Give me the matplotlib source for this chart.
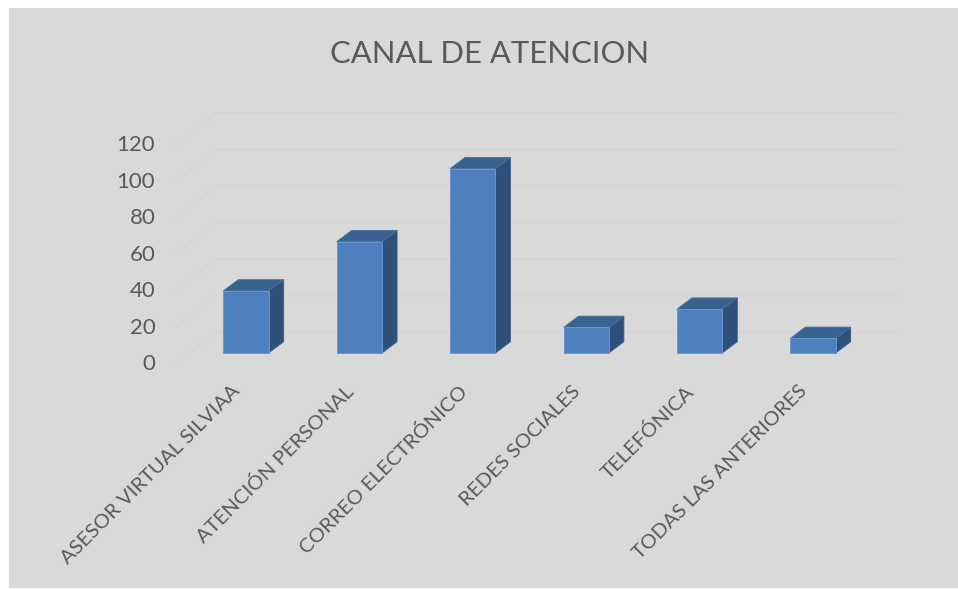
import matplotlib.pyplot as plt
from matplotlib.patches import Polygon, Rectangle
import numpy as np

categories = ['ASESOR VIRTUAL SILVIAA', 'ATENCIÓN PERSONAL', 'CORREO ELECTRÓNICO',
              'REDES SOCIALES', 'TELEFÓNICA', 'TODAS LAS ANTERIORES']
values = [34, 61, 101, 14, 24, 8]
y_ticks = [0, 20, 40, 60, 80, 100, 120]
title = 'CANAL DE ATENCION'

W, H = 958, 589
PX_X = 113.4   # pixels per category
PX_Y = 1.825   # pixels per unit
BAR_W = 0.4
# 3d look, all in data units
DEPTH_X = 15 / PX_X
DEPTH_Y = 11.3 / PX_Y
FRONT_Y = -5.5
BACK_Y = 11.5
BACK_X0 = -0.265
FRONT_X0 = -0.61
RIGHT_X = 5.73
LABEL_SHIFT = 0.13

TEXT = '#595959'
GRID = '#D5D5D5'


def draw_bar(ax, x, v):
  left, right = x - BAR_W / 2, x + BAR_W / 2
  ax.add_patch(Polygon([(right, 0), (right + DEPTH_X, DEPTH_Y), (right + DEPTH_X, v + DEPTH_Y), (right, v)],
                       facecolor='#2F5179', edgecolor='#3A5F8C', linewidth=0.6, zorder=3))
  ax.add_patch(Polygon([(left, v), (left + DEPTH_X, v + DEPTH_Y), (right + DEPTH_X, v + DEPTH_Y), (right, v)],
                       facecolor='#3A6290', edgecolor='#44709F', linewidth=0.6, zorder=3))
  ax.add_patch(Rectangle((left, 0), BAR_W, v, facecolor='#4E7FBE', edgecolor='#6A95CB', linewidth=0.7, zorder=4))


def main():
  plt.rcParams['font.family'] = 'Lato'
  fig = plt.figure(figsize=(W / 100, H / 100), dpi=100, facecolor='white')
  fig.patches.append(Rectangle((9 / W, 1 / H), 1 - 9 / W, 1 - 9 / H, transform=fig.transFigure,
                               facecolor='#D9D9D9', edgecolor='none', zorder=-1))

  # axes box: from the front end of the floor to the top of the back wall
  x_left, x_right = 246 + FRONT_X0 * PX_X, 896
  y_top, y_bottom = 113, 363
  ax = fig.add_axes([x_left / W, 1 - y_bottom / H, (x_right - x_left) / W, (y_bottom - y_top) / H])
  ax.set_xlim(FRONT_X0, (x_right - 246) / PX_X)
  ax.set_ylim((353 - y_bottom) / PX_Y, (353 - y_top) / PX_Y)
  ax.patch.set_visible(False)
  for spine in ax.spines.values():
    spine.set_visible(False)

  for t in y_ticks:
    ax.plot([FRONT_X0, BACK_X0, RIGHT_X], [t + FRONT_Y, t + BACK_Y, t + BACK_Y],
            color=GRID, linewidth=1.1, zorder=1, clip_on=False)

  for i, v in enumerate(values):
    draw_bar(ax, i, v)

  ax.set_yticks(np.array(y_ticks) + FRONT_Y + 0.5, [str(t) for t in y_ticks])
  ax.tick_params(axis='y', length=0, pad=15.5, labelsize=16, labelcolor=TEXT)
  ax.set_xticks(np.arange(len(categories)) - LABEL_SHIFT, categories)
  ax.tick_params(axis='x', length=0, pad=14, labelsize=14.7, labelcolor=TEXT)
  for label in ax.get_xticklabels():
    label.set_rotation(45)
    label.set_ha('right')
    label.set_rotation_mode('anchor')

  fig.text(490 / W, 1 - 54 / H, title, color=TEXT, fontsize=22.3, ha='center', va='center')
  fig.savefig('out.png', dpi=100, facecolor=fig.get_facecolor())


if __name__ == '__main__':
  main()
